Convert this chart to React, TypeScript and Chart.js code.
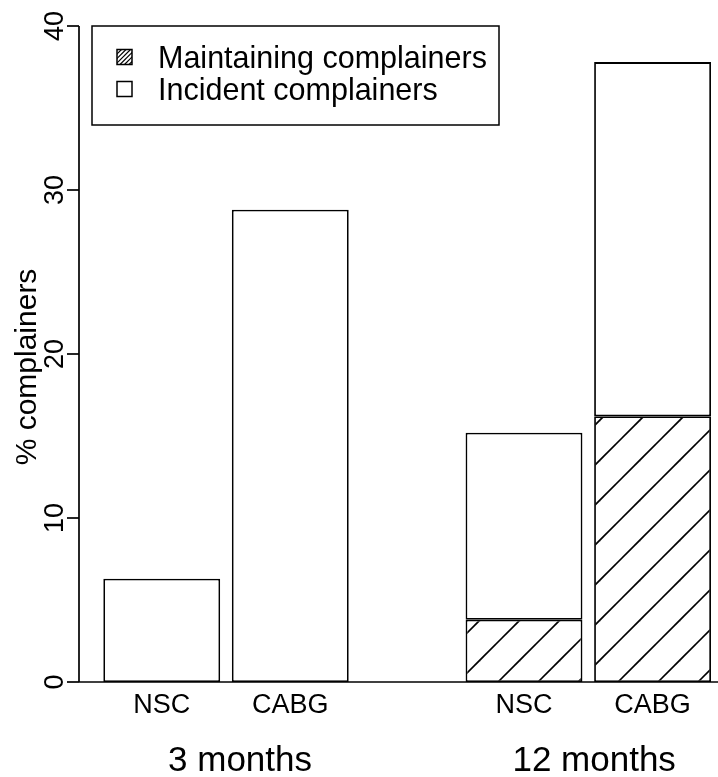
import React, { useEffect, useRef } from "react";
import { Chart, registerables } from "chart.js";

Chart.register(...registerables);

// ---- data ----
const categories = ["NSC", "CABG", "NSC", "CABG"];
const barPositions = [0.7, 1.8, 3.8, 4.9];
const maintaining = [0, 0, 3.8, 16.2];
const incident = [6.3, 28.8, 11.4, 21.6];
const groupLabels = ["3 months", "12 months"];
const groupPositions = [1.37, 4.4];
const yTicks = [0, 10, 20, 30, 40];
const legendLabels = ["Maintaining complainers", "Incident complainers"];
const yTitle = "% complainers";

const FONT = '"Liberation Sans", Arial, Helvetica, sans-serif';

function makeHatch(): CanvasPattern | string {
  const c = document.createElement("canvas");
  c.width = 40;
  c.height = 40;
  const g = c.getContext("2d");
  if (!g) return "#fff";
  g.fillStyle = "#fff";
  g.fillRect(0, 0, 40, 40);
  g.strokeStyle = "#000";
  g.lineWidth = 1.6;
  for (const k of [-20, 20, 60, 100]) {
    g.beginPath();
    g.moveTo(-10, k + 10);
    g.lineTo(k + 10, -10);
    g.stroke();
  }
  return g.createPattern(c, "repeat") || "#fff";
}

const decorPlugin = {
  id: "decor",
  afterDraw(chart: any) {
    const ctx: CanvasRenderingContext2D = chart.ctx;
    const xs = chart.scales.x;
    const ys = chart.scales.y;
    const area = chart.chartArea;
    ctx.save();
    ctx.strokeStyle = "#000";
    ctx.fillStyle = "#000";
    ctx.lineWidth = 1.7;

    // y axis line and ticks
    const y0 = ys.getPixelForValue(yTicks[0]);
    const y1 = ys.getPixelForValue(yTicks[yTicks.length - 1]);
    ctx.beginPath();
    ctx.moveTo(area.left, y0);
    ctx.lineTo(area.left, y1);
    ctx.stroke();
    ctx.font = `27px ${FONT}`;
    ctx.textAlign = "center";
    ctx.textBaseline = "alphabetic";
    for (const t of yTicks) {
      const py = ys.getPixelForValue(t);
      ctx.beginPath();
      ctx.moveTo(area.left - 12, py);
      ctx.lineTo(area.left, py);
      ctx.stroke();
      ctx.save();
      ctx.translate(area.left - 26, py);
      ctx.rotate(-Math.PI / 2);
      ctx.fillText(String(t), 0, 0.716 * 27 / 2);
      ctx.restore();
    }

    // baseline
    ctx.beginPath();
    ctx.moveTo(area.left, y0);
    ctx.lineTo(area.right, y0);
    ctx.stroke();

    // y title
    ctx.save();
    ctx.font = `30px ${FONT}`;
    ctx.translate(25, (y0 + y1) / 2 + 13);
    ctx.rotate(-Math.PI / 2);
    ctx.fillText(yTitle, 0, 0.35 * 30);
    ctx.restore();

    // category labels
    ctx.font = `27px ${FONT}`;
    categories.forEach((c, i) => {
      ctx.fillText(c, xs.getPixelForValue(barPositions[i]), y0 + 31);
    });
    // group labels
    ctx.font = `35px ${FONT}`;
    groupLabels.forEach((g, i) => {
      ctx.fillText(g, xs.getPixelForValue(groupPositions[i]), y0 + 89);
    });

    // legend
    const lx = 92, ly = 26, lw = 407, lh = 99;
    ctx.lineWidth = 1.5;
    ctx.strokeRect(lx, ly, lw, lh);
    ctx.font = `30.5px ${FONT}`;
    ctx.textAlign = "left";
    const rows = [ly + 31, ly + 63];
    // hatched swatch
    const sw = 15;
    const sx = 117;
    ctx.save();
    ctx.beginPath();
    ctx.rect(sx, rows[0] - sw / 2, sw, sw);
    ctx.clip();
    ctx.lineWidth = 1.2;
    for (let k = -sw; k < 2 * sw; k += 4.5) {
      ctx.beginPath();
      ctx.moveTo(sx + k, rows[0] + sw / 2);
      ctx.lineTo(sx + k + sw, rows[0] - sw / 2);
      ctx.stroke();
    }
    ctx.restore();
    ctx.lineWidth = 1.5;
    ctx.strokeRect(sx, rows[0] - sw / 2, sw, sw);
    ctx.strokeRect(sx, rows[1] - sw / 2, sw, sw);
    legendLabels.forEach((t, i) => {
      ctx.fillText(t, 158, rows[i] + 0.358 * 30);
    });
    ctx.restore();
  },
};

export default function App() {
  const ref = useRef<HTMLCanvasElement | null>(null);
  useEffect(() => {
    if (!ref.current) return;
    const hatch = makeHatch();
    const common = {
      borderColor: "#000",
      borderWidth: 1.8,
      borderSkipped: false,
      categoryPercentage: 1,
      barPercentage: 1 / 1.1,
    };
    const chart = new Chart(ref.current, {
      type: "bar",
      data: {
        datasets: [
          {
            label: legendLabels[0],
            data: barPositions.map((x, i) => ({ x, y: maintaining[i] })),
            backgroundColor: hatch as any,
            ...common,
          } as any,
          {
            label: legendLabels[1],
            data: barPositions.map((x, i) => ({ x, y: incident[i] })),
            backgroundColor: "#fff",
            ...common,
          } as any,
        ],
      },
      options: {
        responsive: false,
        animation: false,
        devicePixelRatio: 1,
        layout: { padding: { left: 79, top: 26, right: 0, bottom: 95 } },
        scales: {
          x: {
            type: "linear",
            min: -0.008,
            max: 5.46,
            offset: false,
            display: false,
            stacked: true,
            ticks: { count: 2 },
          },
          y: { min: 0, max: 40, display: false, stacked: true },
        },
        plugins: { legend: { display: false }, tooltip: { enabled: false } },
      },
      plugins: [decorPlugin],
    });
    return () => chart.destroy();
  }, []);
  return (
    <div style={{ position: "absolute", left: 0, top: 0, width: 718, height: 777, background: "#fff" }}>
      <canvas ref={ref} width={718} height={777} />
    </div>
  );
}
